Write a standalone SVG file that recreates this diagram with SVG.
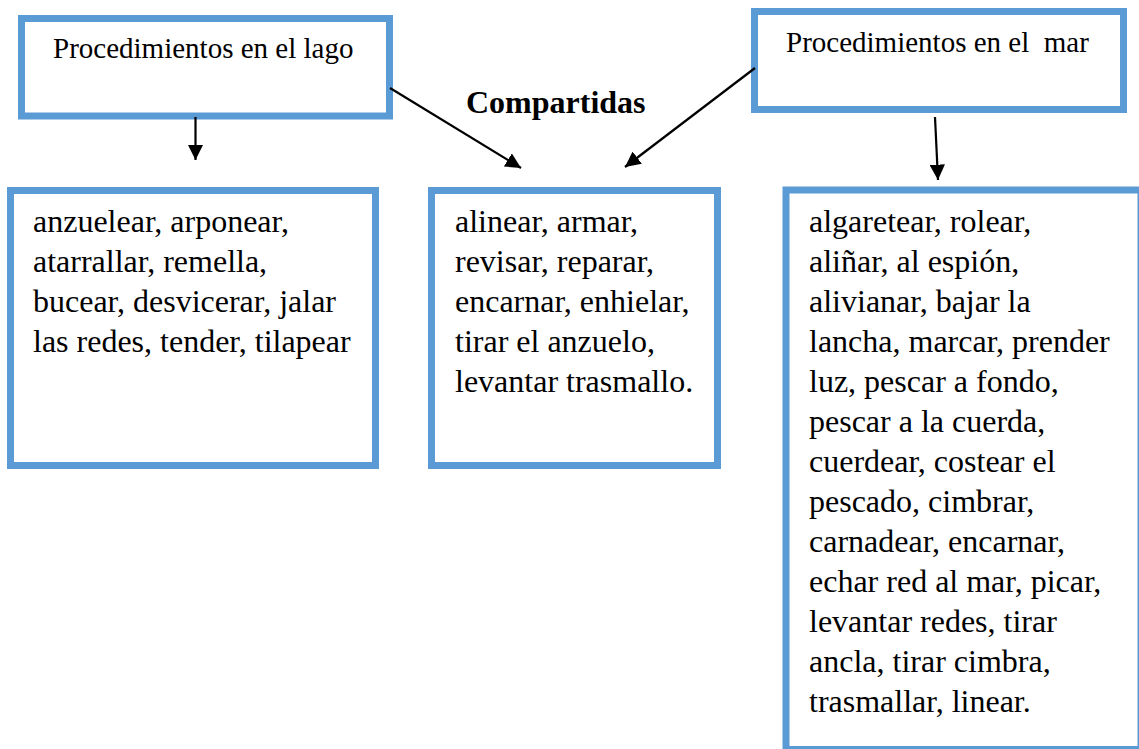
<svg xmlns="http://www.w3.org/2000/svg" width="1139" height="749" viewBox="0 0 1139 749">
<style>
.box{fill:#fff;stroke:#5B9BD5;stroke-width:7}
text{font-family:'Liberation Serif','Times New Roman',Times,serif;fill:#000}
.h{font-size:29px}
.b{font-size:32px}
.conn{stroke:#000;stroke-width:2.2;fill:none}
</style>
<defs>
<marker id="ah" viewBox="0 0 10 10" refX="10" refY="5" markerWidth="7" markerHeight="7" markerUnits="strokeWidth" orient="auto">
<path d="M0,0 L10,5 L0,10 z" fill="#000"/>
</marker>
</defs>
<rect width="1139" height="749" fill="#fff"/>
<g id="lago">
<rect class="box" x="21.5" y="18.5" width="368" height="97.5"/>
<text class="h" x="53" y="58" font-family="Liberation Serif, serif">Procedimientos en el lago</text>
</g>
<g id="mar">
<rect class="box" x="754.5" y="11.5" width="369" height="98"/>
<text class="h" x="786" y="52" font-family="Liberation Serif, serif" xml:space="preserve">Procedimientos en el  mar</text>
</g>
<g id="compartidas-label">
<text class="b" x="466" y="113" font-weight="bold" font-family="Liberation Serif, serif">Compartidas</text>
</g>
<g id="lago-list">
<rect class="box" x="10.5" y="190.5" width="365" height="275"/>
<text class="b" x="33" y="232" font-family="Liberation Serif, serif">
<tspan x="33" y="232">anzuelear, arponear,</tspan>
<tspan x="33" y="272">atarrallar, remella,</tspan>
<tspan x="33" y="312">bucear, desvicerar, jalar</tspan>
<tspan x="33" y="352">las redes, tender, tilapear</tspan>
</text>
</g>
<g id="shared-list">
<rect class="box" x="431.5" y="190.5" width="286" height="275"/>
<text class="b" x="455" y="232" font-family="Liberation Serif, serif">
<tspan x="455" y="232">alinear, armar,</tspan>
<tspan x="455" y="272">revisar, reparar,</tspan>
<tspan x="455" y="312">encarnar, enhielar,</tspan>
<tspan x="455" y="352">tirar el anzuelo,</tspan>
<tspan x="455" y="392">levantar trasmallo.</tspan>
</text>
</g>
<g id="mar-list">
<rect class="box" x="786" y="190" width="355" height="559.5"/>
<text class="b" x="809" y="232" font-family="Liberation Serif, serif">
<tspan x="809" y="232">algaretear, rolear,</tspan>
<tspan x="809" y="272">aliñar, al espión,</tspan>
<tspan x="809" y="312">alivianar, bajar la</tspan>
<tspan x="809" y="352">lancha, marcar, prender</tspan>
<tspan x="809" y="392">luz, pescar a fondo,</tspan>
<tspan x="809" y="432">pescar a la cuerda,</tspan>
<tspan x="809" y="472">cuerdear, costear el</tspan>
<tspan x="809" y="512">pescado, cimbrar,</tspan>
<tspan x="809" y="552">carnadear, encarnar,</tspan>
<tspan x="809" y="592">echar red al mar, picar,</tspan>
<tspan x="809" y="632">levantar redes, tirar</tspan>
<tspan x="809" y="672">ancla, tirar cimbra,</tspan>
<tspan x="809" y="712">trasmallar, linear.</tspan>
</text>
</g>
<g id="connectors">
<line class="conn" x1="195.5" y1="117" x2="195.5" y2="160" marker-end="url(#ah)"/>
<line class="conn" x1="390" y1="88" x2="521" y2="168" marker-end="url(#ah)"/>
<line class="conn" x1="755" y1="68" x2="625" y2="167" marker-end="url(#ah)"/>
<line class="conn" x1="935" y1="117" x2="938" y2="180" marker-end="url(#ah)"/>
</g>
</svg>
